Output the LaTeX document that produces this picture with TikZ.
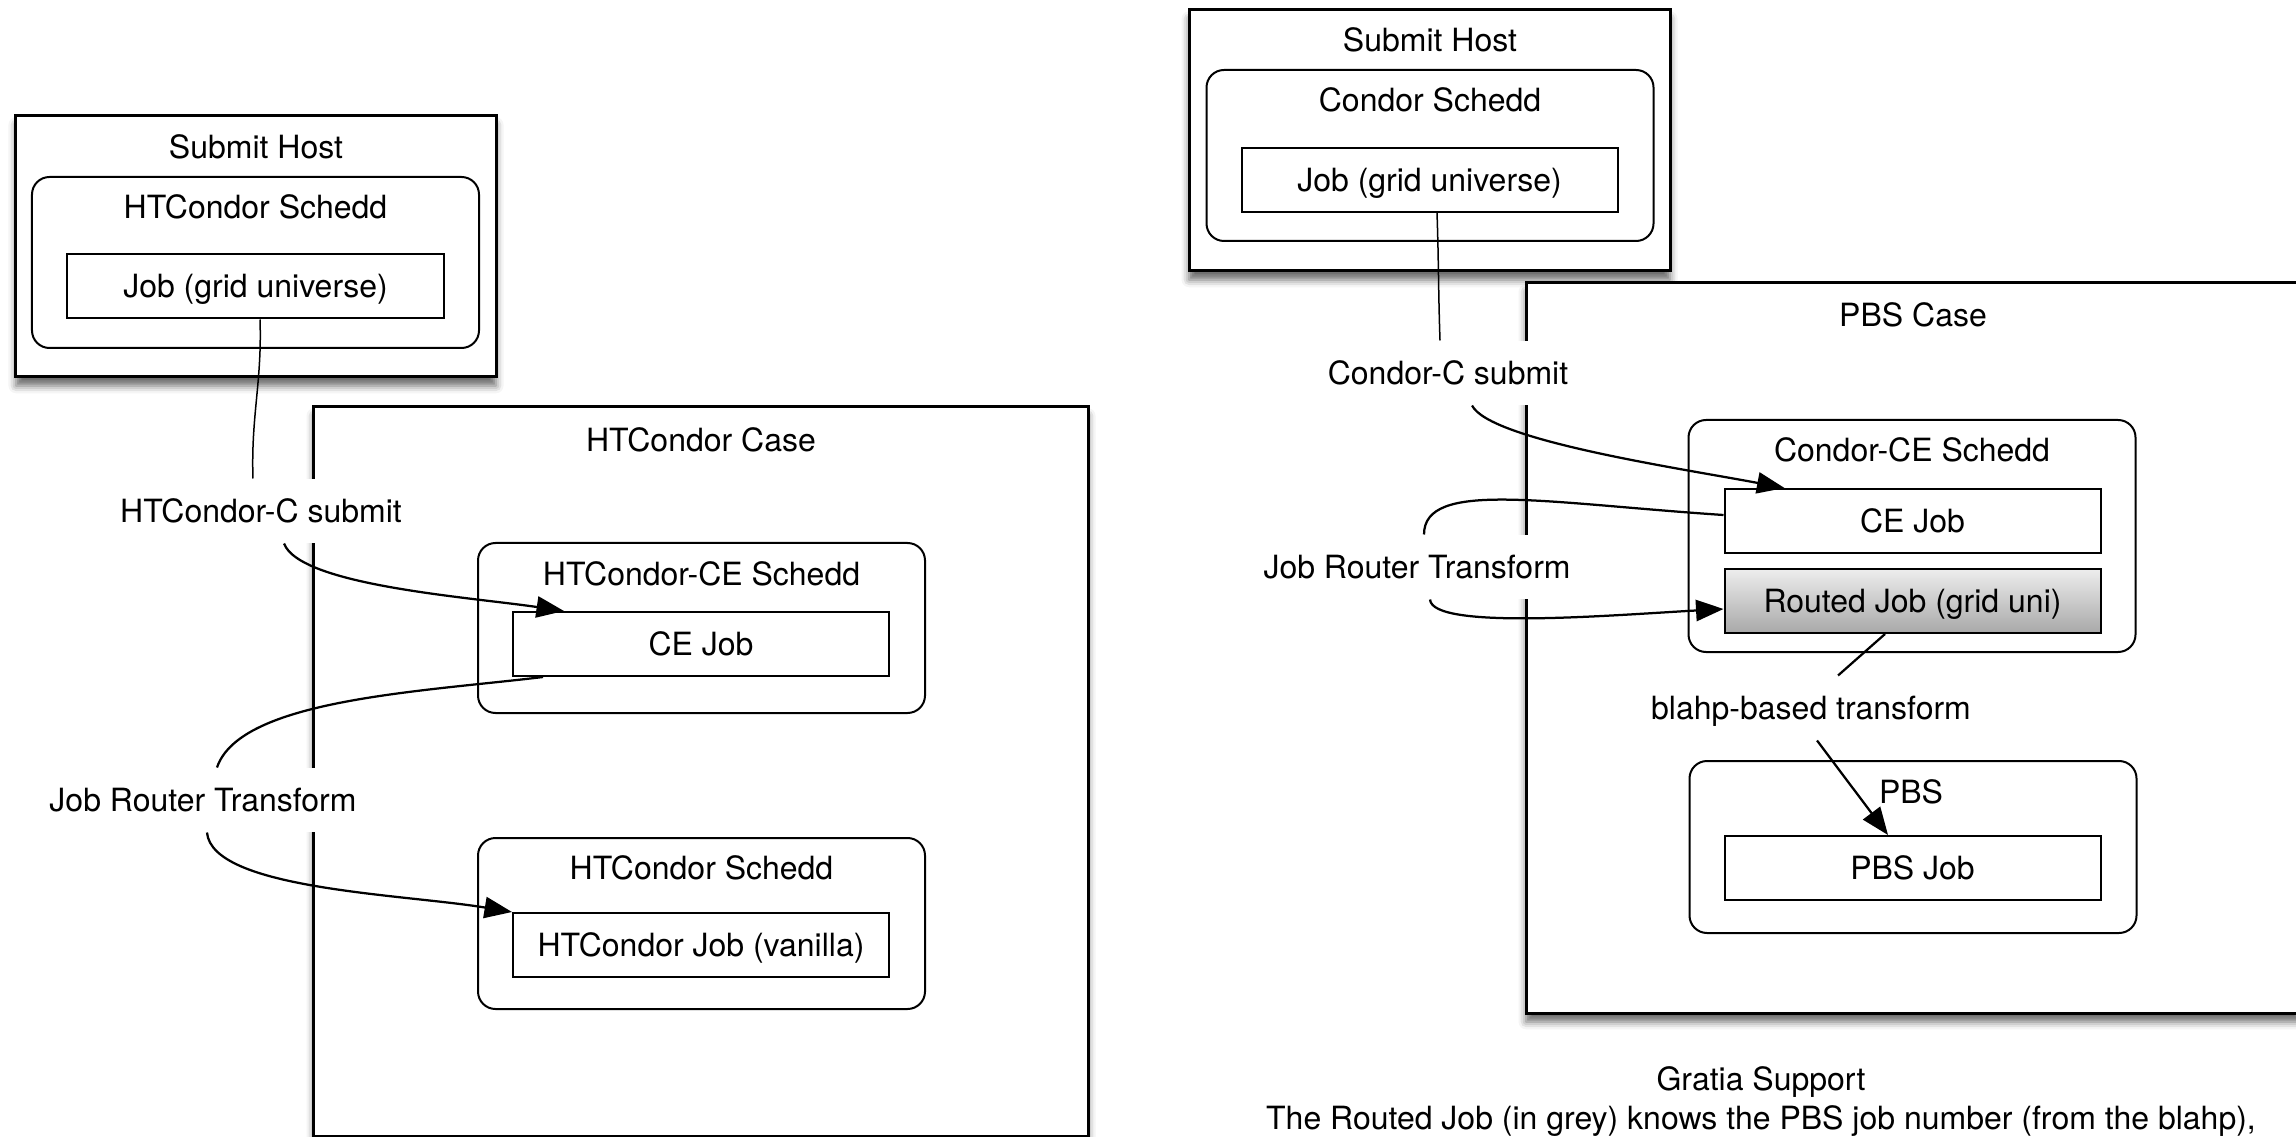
\documentclass[tikz,border=0pt]{standalone}
\usepackage{fontspec}
\setmainfont{TeX Gyre Heros}
\usetikzlibrary{arrows.meta,shadows.blur}

\tikzset{
  hostbox/.style={draw, line width=1.2pt, fill=white,
    blur shadow={shadow xshift=0pt, shadow yshift=-3.5pt, shadow blur radius=3pt, shadow opacity=60}},
  scheddbox/.style={draw, line width=0.8pt, rounded corners=7pt, fill=white, minimum width=178.8pt},
  jobbox/.style={draw, line width=0.8pt, fill=white, minimum width=150.4pt, minimum height=25.6pt},
  routedbox/.style={jobbox, top color=white!93!black, bottom color=white!66!black},
  flowlabel/.style={fill=white, minimum height=25.6pt, inner xsep=4pt, inner ysep=0pt},
  link/.style={line width=0.9pt},
  thinlink/.style={line width=0.6pt},
  flow/.style={link, -{Triangle[length=11pt,width=8.5pt]}},
}

\begin{document}
\begin{tikzpicture}[x=0.4pt, y=0.4pt,
    every node/.style={font=\fontsize{12.8pt}{16.2pt}\selectfont, text height=9.2pt, text depth=0pt}]

      \useasboundingbox (0,0) rectangle (2296,-1137);

      % HTCondor side
      \node[hostbox, minimum width=192pt, minimum height=104.4pt] (submitL) at (256,-246.5) {};
      \node[scheddbox, minimum height=68.4pt] (scheddL) at (255.5,-262.5) {};
      \node[jobbox] (gridjobL) at (255.5,-286.5) {Job (grid universe)};
      \node (tSubmitL) at (256,-147) {Submit Host};
      \node (tScheddL) at (255.5,-207) {HTCondor Schedd};

      \node[hostbox, minimum width=309.6pt, minimum height=291.6pt] (caseL) at (701,-771.5) {};
      \node (tCaseL) at (701,-440) {HTCondor Case};
      \node[scheddbox, minimum height=68pt] (ceScheddL) at (701.5,-628) {};
      \node (tCeScheddL) at (701.5,-574) {HTCondor-CE Schedd};
      \node[jobbox] (cejobL) at (701,-644) {CE Job};
      \node[scheddbox, minimum height=68.4pt] (htScheddL) at (701.5,-923.5) {};
      \node (tHtScheddL) at (701.5,-868) {HTCondor Schedd};
      \node[jobbox] (vanillaL) at (701,-945) {HTCondor Job (vanilla)};

      % PBS side
      \node[hostbox, minimum width=192.4pt, minimum height=104.4pt] (submitR) at (1429.5,-140.5) {};
      \node[scheddbox, minimum height=68.4pt] (scheddR) at (1430,-155.5) {};
      \node[jobbox] (gridjobR) at (1429.5,-180) {Job (grid universe)};
      \node (tSubmitR) at (1430,-40) {Submit Host};
      \node (tScheddR) at (1430,-100) {Condor Schedd};

      \node[hostbox, minimum width=309.6pt, minimum height=292pt] (caseR) at (1913,-648) {};
      \node (tCaseR) at (1913,-315) {PBS Case};
      \node[scheddbox, minimum height=92.8pt] (ceScheddR) at (1912,-536) {};
      \node (tCeScheddR) at (1912,-450) {Condor-CE Schedd};
      \node[jobbox] (cejobR) at (1912.5,-521) {CE Job};
      \node[routedbox] (routedR) at (1912.5,-601) {Routed Job (grid uni)};
      \node[scheddbox, minimum height=68.8pt] (pbsR) at (1913,-847) {};
      \node (tPbsR) at (1911,-792) {PBS};
      \node[jobbox] (pbsjobR) at (1912.5,-868) {PBS Job};

      \begin{scope}[every node/.append style={flowlabel}]
        \node (csubmitL) at (261,-511)  {HTCondor-C submit};
        \node (routerL)  at (203,-800)  {Job Router Transform};
        \node (csubmitR) at (1448,-373) {Condor-C submit};
        \node (routerR)  at (1417,-567) {Job Router Transform};
        \node (blahpR)   at (1811,-708) {blahp-based transform};
      \end{scope}

      \node[anchor=base] (gratiaTitle) at (1761,-1090) {Gratia Support};
      \node[anchor=base] (gratiaNote)  at (1761,-1129.5)
        {The Routed Job (in grey) knows the PBS job number (from the blahp),};

      % connectors
      \draw[thinlink] ([xshift=1.8pt]gridjobL.south) to[out=-88,in=92] ([xshift=-3.2pt]csubmitL.north);
      \draw[flow] ([xshift=9.2pt]csubmitL.south) .. controls +(16,-42) and +(-95,14) .. ([xshift=20.8pt]cejobL.north west);
      \draw[link] ([xshift=12.4pt]cejobL.south west) .. controls +(-124,-15) and +(23,68) .. ([xshift=5.6pt]routerL.north);
      \draw[flow] ([xshift=1.6pt]routerL.south) .. controls +(5,-57) and +(-109,18) .. (vanillaL.north west);

      \draw[thinlink] ([xshift=3pt]gridjobR.south) to[out=-88,in=92] ([xshift=-3.2pt]csubmitR.north);
      \draw[flow] ([xshift=9.6pt]csubmitR.south) .. controls +(18,-35) and +(-106,20) .. ([xshift=24.4pt]cejobR.north west);
      \draw[link] ([yshift=2.4pt]cejobR.west) .. controls +(-180,12) and +(0,55) .. ([xshift=2.8pt]routerR.north);
      \draw[flow] ([xshift=5.2pt]routerR.south) .. controls +(2,-31) and +(-110,-6) .. ([yshift=-3.2pt]routedR.west);
      \draw[link] ([xshift=-11pt]routedR.south) -- ([xshift=10.8pt]blahpR.north);
      \draw[flow] ([xshift=2.4pt]blahpR.south) -- ([xshift=-9.8pt]pbsjobR.north);

    \end{tikzpicture}
\end{document}
